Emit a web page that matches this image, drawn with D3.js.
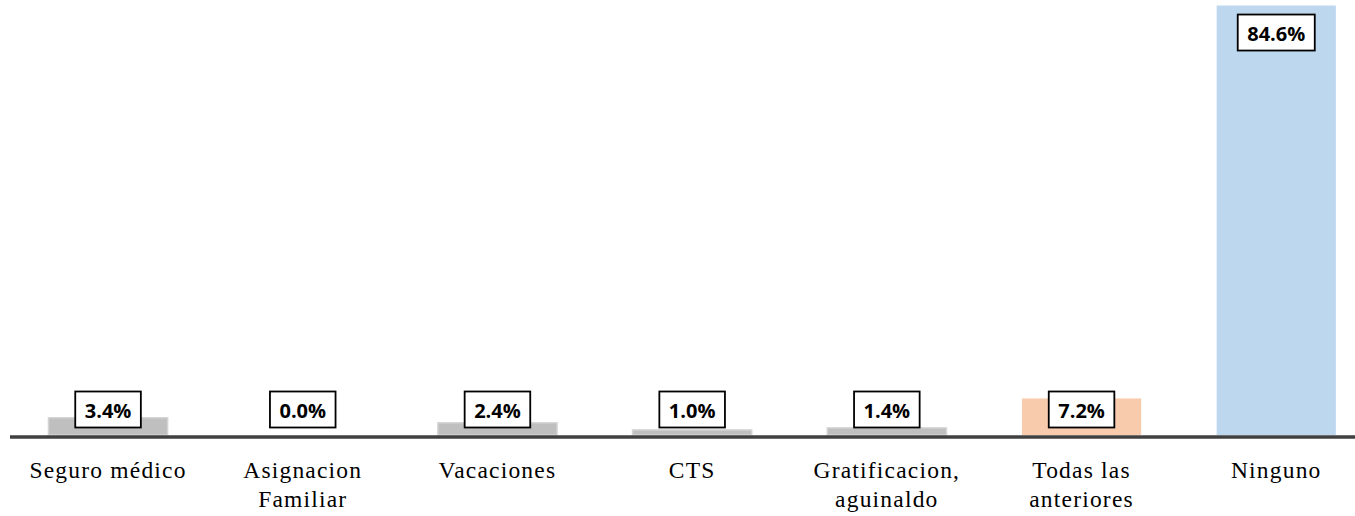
<!DOCTYPE html>
<html>
<head>
<meta charset="utf-8">
<script src="https://cdn.jsdelivr.net/npm/d3@7"></script>
<style>
  html, body { margin: 0; padding: 0; background: #ffffff; }
  svg { display: block; }
  .cat { font-family: "Liberation Serif", "Times New Roman", Times, "DejaVu Serif", serif; font-size: 23.5px; letter-spacing: 1.2px; fill: #000; }
  .val { font-family: "Open Sans", "Liberation Sans", sans-serif; font-weight: bold; font-size: 20px; fill: #000; }
</style>
</head>
<body>
<svg id="chart" width="1355" height="516"></svg>
<script>
const categories = ["Seguro médico", "Asignacion Familiar", "Vacaciones", "CTS", "Gratificacion, aguinaldo", "Todas las anteriores", "Ninguno"];
const values = [3.4, 0.0, 2.4, 1.0, 1.4, 7.2, 84.6];
const barColors = ["#bfbfbf", "#bfbfbf", "#bfbfbf", "#bfbfbf", "#bfbfbf", "#f8cbad", "#bdd7ee"];
const barStrokes = ["#d4d4d4", "#d4d4d4", "#d4d4d4", "#d4d4d4", "#d4d4d4", "none", "none"];

const svg = d3.select("#chart");
const baseY = 435;

const x = d3.scaleBand()
  .domain(categories)
  .range([10.7, 1373.6])
  .paddingInner(0.388)
  .paddingOuter(0.194);

const y = d3.scaleLinear()
  .domain([0, 85])
  .range([baseY, 3.5]);

// bars
svg.append("g").selectAll("rect")
  .data(categories)
  .join("rect")
  .attr("x", d => x(d))
  .attr("width", x.bandwidth())
  .attr("y", (d, i) => y(values[i]))
  .attr("height", (d, i) => baseY - y(values[i]))
  .attr("fill", (d, i) => barColors[i])
  .attr("stroke", (d, i) => values[i] > 0 ? barStrokes[i] : "none")
  .attr("stroke-width", 1.5);

// axis line
const axis = d3.axisBottom(x).tickSize(0).tickFormat("");
const axisG = svg.append("g").attr("transform", `translate(0,${baseY + 2})`).call(axis);
axisG.select(".domain").remove();
axisG.append("line")
  .attr("x1", 10).attr("x2", 1355)
  .attr("y1", 0).attr("y2", 0)
  .attr("stroke", "#404040").attr("stroke-width", 3.5);

// category labels (wrapped)
const labelG = svg.append("g");

categories.forEach(cat => {
  const cx = x(cat) + x.bandwidth() / 2;
  const t = labelG.append("text").attr("class", "cat").attr("text-anchor", "middle");
  const words = cat.split(" ");
  let lines = [];
  let cur = [];
  const probe = labelG.append("text").attr("class", "cat").attr("visibility", "hidden");
  words.forEach(w => {
    const test = cur.concat([w]).join(" ");
    probe.text(test);
    if (cur.length && probe.node().getComputedTextLength() > 172) {
      lines.push(cur.join(" "));
      cur = [w];
    } else {
      cur.push(w);
    }
  });
  lines.push(cur.join(" "));
  probe.remove();
  lines.forEach((ln, k) => {
    t.append("tspan").attr("x", cx).attr("y", 478 + k * 29).text(ln);
  });
});

// value labels in boxes
const valG = svg.append("g");
categories.forEach((cat, i) => {
  const v = values[i];
  const cx = x(cat) + x.bandwidth() / 2;
  const h = baseY - y(v);
  const cy = h > 60 ? y(v) + 27 : 409.5;
  const g = valG.append("g");
  const rect = g.append("rect");
  const txt = g.append("text")
    .attr("class", "val")
    .attr("x", cx)
    .attr("y", cy + 8)
    .attr("text-anchor", "middle")
    .text(v.toFixed(1) + "%");
  const w = txt.node().getComputedTextLength() + 19;
  rect.attr("x", cx - w / 2)
    .attr("y", cy - 18)
    .attr("width", w)
    .attr("height", 36)
    .attr("fill", "#fff")
    .attr("stroke", "#000")
    .attr("stroke-width", 1.8);
});
</script>
</body>
</html>
